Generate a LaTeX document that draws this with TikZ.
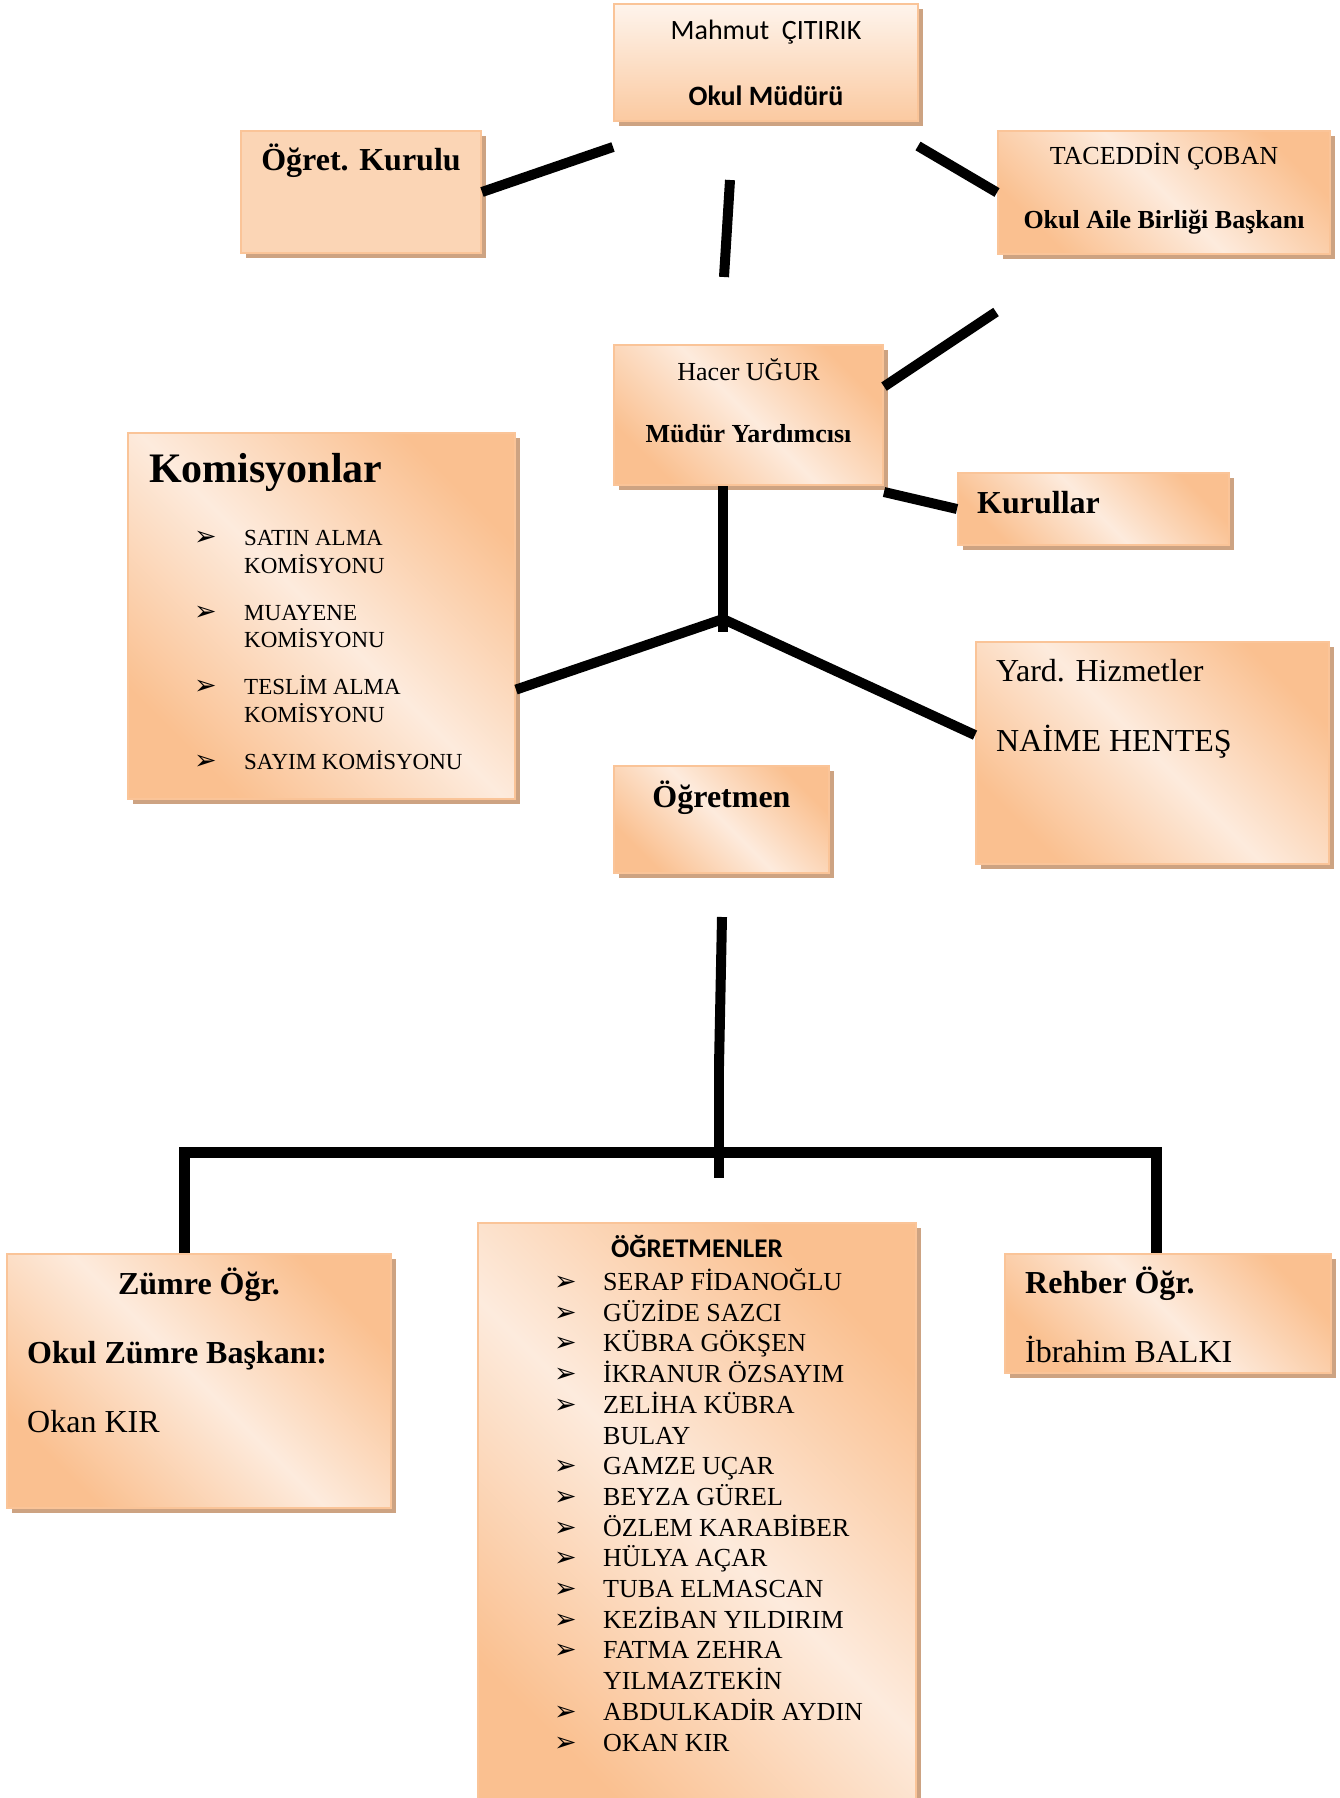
\documentclass[tikz,border=0pt]{standalone}
\usepackage{fontspec}
\setmainfont{Liberation Serif}
\newfontfamily\calfont{Carlito}
\newfontfamily\bulfont{DejaVu Sans}
\usepackage{tikz}
\usetikzlibrary{positioning, calc, shadows}
\definecolor{boxorange}{RGB}{250,192,144}
\definecolor{boxlight}{RGB}{253,235,221}
\definecolor{boxflat}{RGB}{251,213,181}
\definecolor{boxedge}{RGB}{250,196,152}
\definecolor{mudurtop}{RGB}{254,244,236}
\definecolor{shadowtan}{RGB}{205,163,130}
\newcommand{\listbul}[1]{\makebox[#1][l]{\bulfont\fontsize{27}{27}\selectfont ➢}}

\begin{document}
\begin{tikzpicture}[
    x=1pt, y=-1pt,
    box/.style={rectangle, draw=boxedge, line width=2pt, anchor=north west, inner sep=0pt,
        general shadow={fill=shadowtan, shadow xshift=5pt, shadow yshift=-5pt}},
    fancy/.style={box, top color=boxorange, bottom color=boxorange, middle color=boxlight, shading angle=-45},
    link/.style={line width=10pt, black, line join=miter},
    namelabel/.style={font=\fontsize{26}{31}\selectfont, inner sep=0pt},
    rolelabel/.style={font=\bfseries\fontsize{26}{31}\selectfont, inner sep=0pt},
    headlabel/.style={font=\bfseries\fontsize{32}{38}\selectfont, inner sep=0pt},
    bodylabel/.style={font=\fontsize{32}{38}\selectfont, inner sep=0pt},
    callabel/.style={font=\calfont\fontsize{28}{34}\selectfont, inner sep=0pt}
]
\useasboundingbox (0,0) rectangle (1340,1798);

% Okul Mudur
\node[box, top color=mudurtop, bottom color=boxorange!85!white, minimum width=304pt, minimum height=117pt] (mudur) at (613,3) {};
\node[callabel, anchor=base] (mudurad) at ($(mudur.north)+(0,37)$) {Mahmut\ \ ÇITIRIK};
\node[callabel, font=\calfont\bfseries\fontsize{28}{34}\selectfont, anchor=base] (mudurgorev) at ($(mudur.north)+(0,103)$) {Okul Müdürü};

% Ogretmenler kurulu
\node[box, fill=boxflat, minimum width=240pt, minimum height=122pt] (kurul) at (240,130) {};
\node[headlabel, anchor=base] (kurulad) at ($(kurul.north)+(0,41)$) {Öğret. Kurulu};

% Okul aile birligi
\node[fancy, minimum width=332pt, minimum height=123pt] (aile) at (997,130) {};
\node[namelabel, anchor=base] (ailead) at ($(aile.north)+(0,35)$) {TACEDDİN ÇOBAN};
\node[rolelabel, anchor=base] (ailegorev) at ($(aile.north)+(0,98)$) {Okul Aile Birliği Başkanı};

% Mudur yardimcisi
\node[fancy, minimum width=269pt, minimum height=140pt] (yard) at (613,344) {};
\node[namelabel, anchor=base] (yardad) at ($(yard.north)+(0,36)$) {Hacer UĞUR};
\node[rolelabel, anchor=base] (yardgorev) at ($(yard.north)+(0,98)$) {Müdür Yardımcısı};

% Kurullar
\node[fancy, minimum width=271pt, minimum height=72pt] (kurullar) at (957,472) {};
\node[headlabel, anchor=base west] (kurullarad) at ($(kurullar.north west)+(20,41)$) {Kurullar};

% Komisyonlar
\node[fancy, minimum width=387pt, minimum height=366pt] (komisyon) at (127,432) {};
\node[font=\bfseries\fontsize{42}{50}\selectfont, inner sep=0pt, anchor=base west] (komisyonad) at ($(komisyon.north west)+(22,50)$) {Komisyonlar};
\node[font=\fontsize{23}{27.5}\selectfont, align=left, inner sep=0pt, anchor=base west] (komliste) at ($(komisyon.north west)+(67,337)$) {%
    \listbul{50pt}SATIN ALMA\\ \hspace*{50pt}KOMİSYONU\\[19.5pt]
    \listbul{50pt}MUAYENE\\ \hspace*{50pt}KOMİSYONU\\[19.5pt]
    \listbul{50pt}TESLİM ALMA\\ \hspace*{50pt}KOMİSYONU\\[19.5pt]
    \listbul{50pt}SAYIM KOMİSYONU};

% Yardimci hizmetler
\node[fancy, minimum width=353pt, minimum height=222pt] (hizmet) at (975,641) {};
\node[bodylabel, anchor=base west] (hizmetad) at ($(hizmet.north west)+(21,40)$) {Yard. Hizmetler};
\node[bodylabel, anchor=base west] (hizmetisim) at ($(hizmet.north west)+(21,110)$) {NAİME HENTEŞ};

% Ogretmen
\node[fancy, minimum width=215pt, minimum height=107pt] (ogretmen) at (613,765) {};
\node[headlabel, anchor=base] (ogretmenad) at ($(ogretmen.north)+(0,42)$) {Öğretmen};

% Zumre
\node[fancy, minimum width=384pt, minimum height=254pt] (zumre) at (6,1253) {};
\node[headlabel, anchor=base] (zumread) at ($(zumre.north)+(0,41)$) {Zümre Öğr.};
\node[headlabel, anchor=base west] (zumregorev) at ($(zumre.north west)+(21,110)$) {Okul Zümre Başkanı:};
\node[bodylabel, anchor=base west] (zumreisim) at ($(zumre.north west)+(21,179)$) {Okan KIR};

% Ogretmenler listesi
\node[fancy, minimum width=438pt, minimum height=590pt] (liste) at (477,1222) {};
\node[callabel, font=\calfont\bfseries\fontsize{27}{32}\selectfont, anchor=base] (listead) at ($(liste.north)+(0,35)$) {ÖĞRETMENLER};
\node[font=\fontsize{26}{30.7}\selectfont, align=left, inner sep=0pt, anchor=base west] (listeisim) at ($(liste.north west)+(77,529)$) {%
    \listbul{49pt}SERAP FİDANOĞLU\\
    \listbul{49pt}GÜZİDE SAZCI\\
    \listbul{49pt}KÜBRA GÖKŞEN\\
    \listbul{49pt}İKRANUR ÖZSAYIM\\
    \listbul{49pt}ZELİHA KÜBRA\\
    \hspace*{49pt}BULAY\\
    \listbul{49pt}GAMZE UÇAR\\
    \listbul{49pt}BEYZA GÜREL\\
    \listbul{49pt}ÖZLEM KARABİBER\\
    \listbul{49pt}HÜLYA AÇAR\\
    \listbul{49pt}TUBA ELMASCAN\\
    \listbul{49pt}KEZİBAN YILDIRIM\\
    \listbul{49pt}FATMA ZEHRA\\
    \hspace*{49pt}YILMAZTEKİN\\
    \listbul{49pt}ABDULKADİR AYDIN\\
    \listbul{49pt}OKAN KIR};

% Rehber
\node[fancy, minimum width=326pt, minimum height=119pt] (rehber) at (1004,1253) {};
\node[headlabel, anchor=base west] (rehberad) at ($(rehber.north west)+(21,40)$) {Rehber Öğr.};
\node[bodylabel, anchor=base west] (rehberisim) at ($(rehber.north west)+(21,109)$) {İbrahim BALKI};

% Baglantilar
\coordinate (kurulend) at (613,147);
\coordinate (mudurtopc) at (730,180);
\coordinate (mudurbotc) at (724,277);
\coordinate (ailestart) at (918,146);
\coordinate (yardend) at (996,312);
\coordinate (kavsak) at (723,619);
\coordinate (kavsakalt) at (723,632);
\draw[link] (kurul.east) -- (kurulend);
\draw[link] (mudurtopc) -- (mudurbotc);
\draw[link] (ailestart) -- (aile.west);
\draw[link] ($(yard.north east)!0.3!(yard.south east)$) -- (yardend);
\draw[link] ([yshift=-6pt]yard.south east) -- (kurullar.west);
\draw[link] (yard.south -| kavsak) -- (kavsakalt);
\draw[link] ($(komisyon.north east)!0.7!(komisyon.south east)$) -- (kavsak) -- ($(hizmet.north west)!0.42!(hizmet.south west)$);

\coordinate (ogtop) at (722,917);
\coordinate (ogmid) at (719,1066);
\coordinate (ogbot) at (719,1178);
\coordinate (barsol) at (184,1152);
\coordinate (barsag) at (1156,1152);
\draw[link] (ogtop) -- (ogmid);
\draw[link] (ogmid) -- (ogbot);
\draw[link, line width=11pt] (zumre.north -| barsol) -- (barsol) -- (barsag) -- (rehber.north -| barsag);
\end{tikzpicture}
\end{document}
